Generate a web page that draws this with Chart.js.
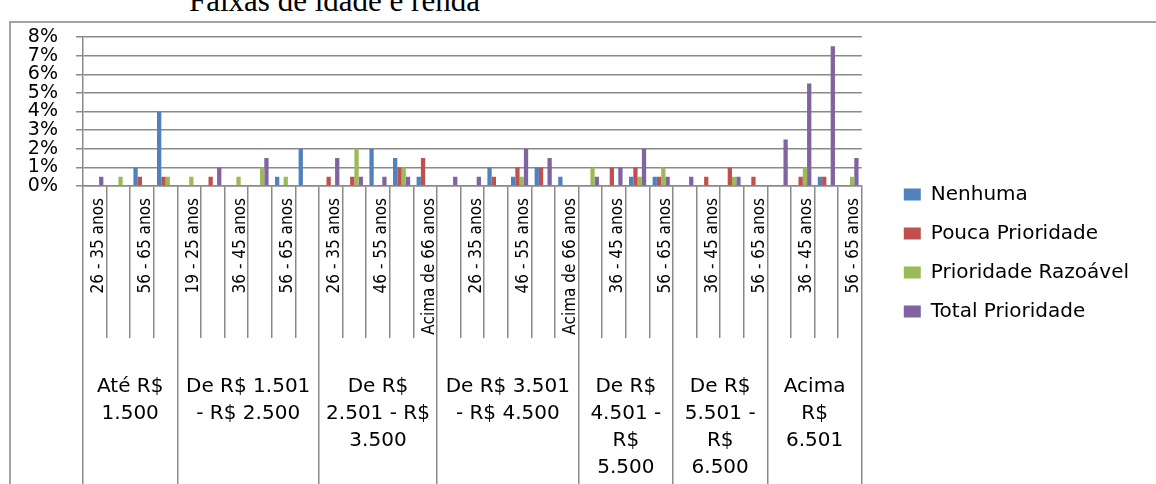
<!DOCTYPE html>
<html>
<head>
<meta charset="utf-8">
<script src="https://cdn.jsdelivr.net/npm/chart.js@4.4.1/dist/chart.umd.min.js"></script>
<style>
  html, body { margin: 0; padding: 0; background: #fff; overflow: hidden; }
  #wrap { position: relative; width: 1156px; height: 484px; overflow: hidden; }
  #frame { position: absolute; left: 9px; top: 21px; width: 1200px; height: 520px;
           border-left: 2px solid #a3a3a3; border-top: 2px solid #a3a3a3; }
  #title { position: absolute; left: 189px; top: -15px; font: 31px/31px "Liberation Serif", serif;
           white-space: nowrap; color: #000; }
  canvas { position: absolute; left: 0; top: 0; }
</style>
</head>
<body>
<div id="wrap">
  <div id="title">Faixas de idade e renda</div>
  <div id="frame"></div>
  <canvas id="chart" width="1156" height="484"></canvas>
</div>
<script>
// faixas etárias (nível 1 do eixo x), uma por barra agrupada
const ageLabels = [
  '26 - 35 anos', '36 - 45 anos', '56 - 65 anos', 'Acima de 66 anos',
  '19 - 25 anos', '26 - 35 anos', '36 - 45 anos', '46 - 55 anos', '56 - 65 anos', 'Acima de 66 anos',
  '26 - 35 anos', '36 - 45 anos', '46 - 55 anos', '56 - 65 anos', 'Acima de 66 anos',
  '19 - 25 anos', '26 - 35 anos', '36 - 45 anos', '46 - 55 anos', '56 - 65 anos', 'Acima de 66 anos',
  '26 - 35 anos', '36 - 45 anos', '46 - 55 anos', '56 - 65 anos',
  '26 - 35 anos', '36 - 45 anos', '46 - 55 anos', '56 - 65 anos',
  '26 - 35 anos', '36 - 45 anos', '46 - 55 anos', '56 - 65 anos'
];

// faixas de renda (nível 2 do eixo x)
const groupLabels = [
  ['Até R$', '1.500'],
  ['De R$ 1.501', '- R$ 2.500'],
  ['De R$', '2.501 - R$', '3.500'],
  ['De R$ 3.501', '- R$ 4.500'],
  ['De R$', '4.501 -', 'R$', '5.500'],
  ['De R$', '5.501 -', 'R$', '6.500'],
  ['Acima', 'R$', '6.501']
];
const groupSizes = [4, 6, 5, 6, 4, 4, 4];

// valores em %
const nenhuma   = [0, 0, 1, 4,  0, 0, 0, 0, 0.5, 2,  0, 0, 2, 1.5, 0.5,  0, 0, 1, 0.5, 1, 0.5,  0, 0, 0.5, 0.5,  0, 0, 0, 0,  0, 0, 0.5, 0];
const pouca     = [0, 0, 0.5, 0.5,  0, 0.5, 0, 0, 0, 0,  0.5, 0.5, 0, 1, 1.5,  0, 0, 0.5, 1, 1, 0,  0, 1, 1, 0.5,  0, 0.5, 1, 0.5,  0, 0.5, 0.5, 0];
const razoavel  = [0, 0.5, 0, 0.5,  0.5, 0, 0.5, 1, 0.5, 0,  0, 2, 0, 1, 0,  0, 0, 0, 0.5, 0, 0,  1, 0, 0.5, 1,  0, 0, 0.5, 0,  0, 1, 0, 0.5];
const total     = [0.5, 0, 0, 0,  0, 1, 0, 1.5, 0, 0,  1.5, 0.5, 0.5, 0.5, 0,  0.5, 0.5, 0, 2, 1.5, 0,  0.5, 1, 2, 0.5,  0.5, 0, 0.5, 0,  2.5, 5.5, 7.5, 1.5];

const yTicks = [0, 1, 2, 3, 4, 5, 6, 7, 8];

const GRID = '#8a8a8a';
const NARROW = "'DejaVu Sans Condensed', 'DejaVu Sans', sans-serif";
const WIDE = "'DejaVu Sans', sans-serif";

// limites e centros dos grupos de renda, em índices de categoria
const bounds = [-0.5];
groupSizes.forEach(n => bounds.push(bounds[bounds.length - 1] + n));
const centers = groupSizes.map((n, i) => (bounds[i] + bounds[i + 1]) / 2);

const band1 = 152;   // altura da faixa das idades
const band2 = 146;   // altura da faixa de renda

const ctx = document.getElementById('chart').getContext('2d');
new Chart(ctx, {
  type: 'bar',
  data: {
    labels: ageLabels,
    datasets: [
      { label: 'Nenhuma', data: nenhuma, backgroundColor: '#4F81BD' },
      { label: 'Pouca Prioridade', data: pouca, backgroundColor: '#C0504D' },
      { label: 'Prioridade Razoável', data: razoavel, backgroundColor: '#9BBB59' },
      { label: 'Total Prioridade', data: total, backgroundColor: '#8064A2' }
    ]
  },
  options: {
    responsive: false,
    animation: false,
    layout: { padding: { top: 37, left: 0, right: 17, bottom: 0 } },
    datasets: { bar: { borderWidth: 0, categoryPercentage: 0.727, barPercentage: 1 } },
    scales: {
      y: {
        min: 0, max: 8,
        afterBuildTicks: s => { s.ticks = yTicks.map(v => ({ value: v })); },
        ticks: { autoSkip: false, callback: v => v + '%', color: '#000', padding: 18, font: { family: WIDE, size: 19 } },
        grid: { color: GRID, lineWidth: 1.5, tickLength: 7 },
        border: { color: GRID, width: 1.5 },
        afterFit: s => { s.width = 83; }
      },
      yR: {
        position: 'right',
        grid: { display: false },
        ticks: { display: false },
        border: { display: false },
        afterFit: s => { s.width = 23; }
      },
      x: {
        weight: 0,
        offset: true,
        ticks: {
          autoSkip: false, minRotation: 90, maxRotation: 90,
          padding: 12 - band1, labelOffset: 4,
          color: '#000', font: { family: NARROW, size: 17 },
          callback: (v, i) => (i % 2 === 0 ? ageLabels[i] : '')
        },
        grid: { drawOnChartArea: false, offset: true, tickLength: band1, color: GRID, lineWidth: 1.5 },
        border: { color: GRID, width: 1.5 },
        afterFit: s => { s.height = band1; }
      },
      x2: {
        type: 'linear',
        position: 'bottom',
        weight: 1,
        offset: false,
        min: -0.5, max: ageLabels.length - 0.5,
        afterBuildTicks: s => {
          s.ticks = bounds.concat(centers).sort((a, b) => a - b).map(v => ({ value: v }));
        },
        ticks: {
          autoSkip: false, maxRotation: 0, minRotation: 0,
          padding: 35 - 170,
          color: '#000', font: { family: WIDE, size: 20, lineHeight: 1.35 },
          callback: v => {
            const i = centers.indexOf(v);
            return i >= 0 ? groupLabels[i] : '';
          }
        },
        grid: {
          drawOnChartArea: false, offset: false, tickLength: 170, lineWidth: 1.5,
          color: c => (c.tick && bounds.includes(c.tick.value)) ? GRID : 'rgba(0,0,0,0)'
        },
        border: { display: false },
        afterFit: s => { s.height = band2; }
      }
    },
    plugins: {
      tooltip: { enabled: false },
      legend: {
        position: 'right',
        align: 'center',
        maxWidth: 255,
        // título vazio com padding negativo: sobe as entradas da legenda
        title: { display: true, text: '', font: { size: 1 }, padding: { top: -8, bottom: -8 } },
        labels: {
          boxWidth: 17, boxHeight: 12, padding: 19, color: '#000',
          font: { family: WIDE, size: 20 }
        }
      }
    }
  }
});
</script>
</body>
</html>
